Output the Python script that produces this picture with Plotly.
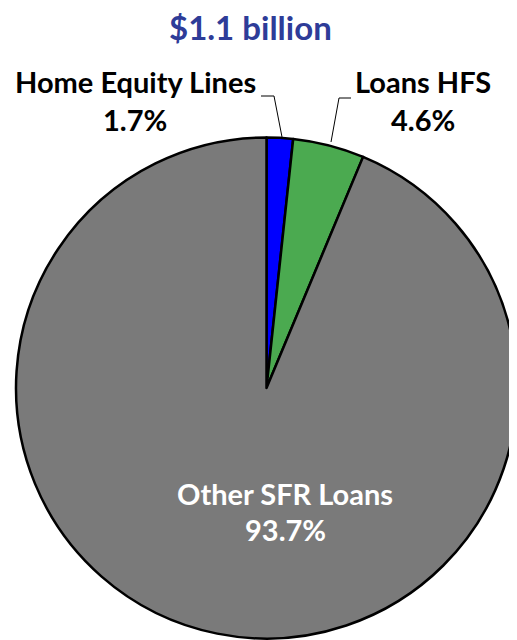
import plotly.graph_objects as go

labels = ["Home Equity Lines", "Loans HFS", "Other SFR Loans"]
values = [1.7, 4.6, 93.7]
colors = ["#0000FF", "#4BAA50", "#7A7A7A"]
title_text = "$1.1 billion"

# page body has an 8px margin; work in screen coords and shift
OFF = 8
W, H = 517 - OFF, 640 - OFF

def px(x):
    return (x - OFF) / W

def py(y):
    return 1 - (y - OFF) / H

fig = go.Figure(go.Pie(
    labels=labels,
    values=values,
    sort=False,
    direction="clockwise",
    rotation=0,
    marker=dict(colors=colors, line=dict(color="black", width=2.5)),
    textinfo="none",
    hoverinfo="label+percent",
    domain=dict(x=[px(16), 1.0], y=[max(0, py(639)), py(137)]),
    showlegend=False,
))

FAM = "Lato, 'Open Sans', sans-serif"
font_lbl = dict(family=FAM, size=29, color="black")
font_in = dict(family=FAM, size=29, color="white")

ann = [
    dict(x=px(250), y=py(27), text="<b>" + title_text + "</b>",
         font=dict(family=FAM, size=33, color="#2E3C98")),
    dict(x=px(135), y=py(82), text="<b>" + labels[0] + "</b>", font=font_lbl),
    dict(x=px(135), y=py(119), text="<b>%.1f%%</b>" % values[0], font=font_lbl),
    dict(x=px(423), y=py(82), text="<b>" + labels[1] + "</b>", font=font_lbl),
    dict(x=px(423), y=py(119), text="<b>%.1f%%</b>" % values[1], font=font_lbl),
    dict(x=px(285), y=py(493), text="<b>" + labels[2] + "</b>", font=font_in),
    dict(x=px(285), y=py(529), text="<b>%.1f%%</b>" % values[2], font=font_in),
]
for a in ann:
    a.update(xref="paper", yref="paper", showarrow=False, xanchor="center", yanchor="middle")

shapes = [
    dict(type="path", xref="paper", yref="paper",
         path=f"M {px(282)},{py(137)} L {px(274)},{py(96)} L {px(261)},{py(96)}",
         line=dict(color="black", width=1)),
    dict(type="path", xref="paper", yref="paper",
         path=f"M {px(331)},{py(142)} L {px(339)},{py(98)} L {px(351)},{py(98)}",
         line=dict(color="black", width=1)),
]

fig.update_layout(
    width=W, height=H,
    margin=dict(l=0, r=0, t=0, b=0),
    paper_bgcolor="white", plot_bgcolor="white",
    annotations=ann, shapes=shapes,
)

fig.write_html("out.html")
